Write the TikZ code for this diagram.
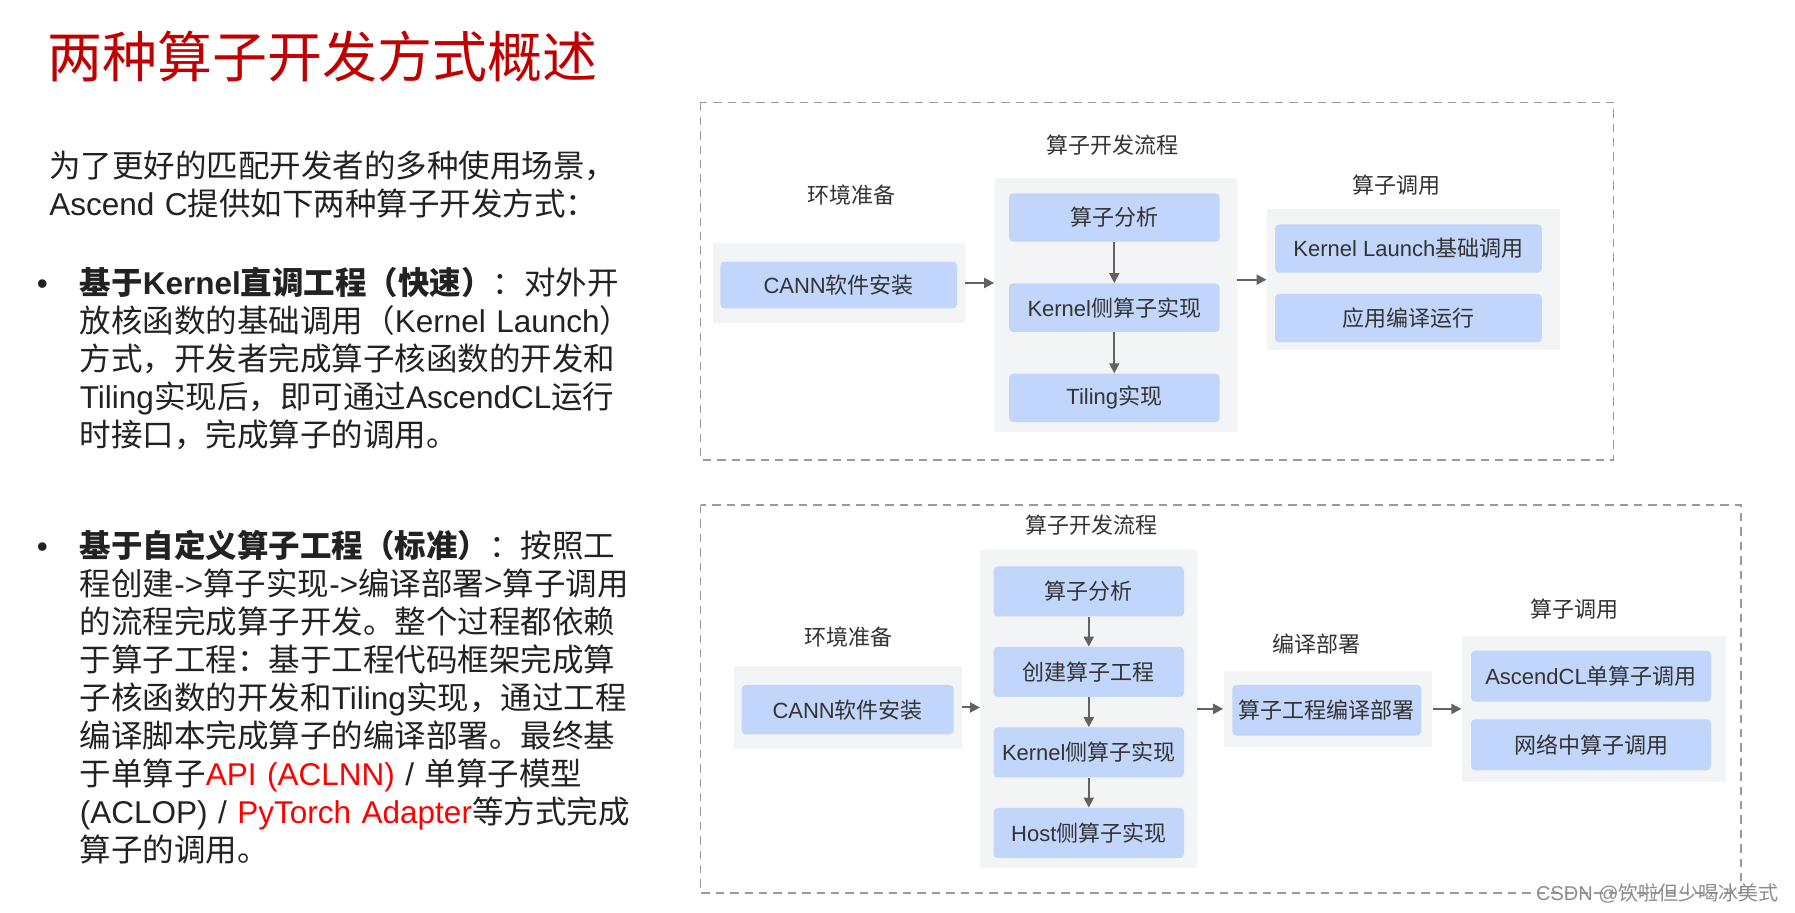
\documentclass[tikz,border=0pt]{standalone}
\usepackage{fontspec}
\setmainfont{Noto Sans CJK SC}
\newfontfamily\enfont{Liberation Sans}
\newcommand{\eng}[1]{{\enfont #1}}
\usetikzlibrary{positioning,arrows.meta}
\definecolor{titlered}{HTML}{C00000}
\definecolor{hired}{HTML}{FF0000}
\definecolor{bodytext}{HTML}{222222}
\definecolor{difftext}{HTML}{333333}
\definecolor{boxblue}{HTML}{C2D5FB}
\definecolor{panelgray}{HTML}{F3F4F6}
\definecolor{arrgray}{HTML}{626262}
\definecolor{framegray}{HTML}{9A9A9A}
\definecolor{markgray}{HTML}{8C8C8C}

\begin{document}
\begin{tikzpicture}[x=0.5pt, y=-0.5pt,
  body/.style={anchor=base west, inner sep=0pt, text=bodytext, align=left, text width=300pt, font=\fontsize{15.75pt}{18.95pt}\selectfont},
  bullet/.style={anchor=base west, inner sep=0pt, text=bodytext, font=\fontsize{15.75pt}{18.95pt}\selectfont},
  panel/.style={fill=panelgray, inner sep=0pt},
  box/.style={fill=boxblue, rounded corners=2pt, inner sep=0pt, minimum height=24.2pt, text=difftext, font=\fontsize{11pt}{13pt}\selectfont},
  lbl/.style={inner sep=0pt, text=difftext, font=\fontsize{11pt}{13pt}\selectfont},
  arr/.style={draw=arrgray, line width=1pt, -{Triangle[length=5pt, width=5pt]}},
  frame/.style={draw=framegray, line width=0.7pt, dash pattern=on 4.2pt off 3pt}]

\useasboundingbox (0,0) rectangle (1795,913);
\fill[white] (0,0) rectangle (1795,913);

% left column
\node[anchor=base west, inner sep=0pt, text=titlered, font=\fontsize{27.5pt}{33pt}\selectfont] (title) at (47,78) {两种算子开发方式概述};
\node[body] (intro) at (49,177.5) {为了更好的匹配开发者的多种使用场景，\\\eng{Ascend C}提供如下两种算子开发方式：};
\node[bullet] (dot1) at (36.5,294.7) {\eng{•}};
\node[body] (item1) at (79.5,294.7) {\textbf{基于\eng{Kernel}直调工程（快速）}：对外开\\
放核函数的基础调用（\eng{Kernel Launch}）\\
方式，开发者完成算子核函数的开发和\\
\eng{Tiling}实现后，即可通过\eng{AscendCL}运行\\
时接口，完成算子的调用。};
\node[bullet] (dot2) at (36.5,558) {\eng{•}};
\node[body] (item2) at (79.5,558) {\textbf{基于自定义算子工程（标准）}：按照工\\
程创建\eng{->}算子实现\eng{->}编译部署\eng{>}算子调用\\
的流程完成算子开发。整个过程都依赖\\
于算子工程：基于工程代码框架完成算\\
子核函数的开发和\eng{Tiling}实现，通过工程\\
编译脚本完成算子的编译部署。最终基\\
于单算子\textcolor{hired}{\eng{API (ACLNN)}}\eng{ / }单算子模型\\
\eng{(ACLOP) / }\textcolor{hired}{\eng{PyTorch Adapter}}等方式完成\\
算子的调用。};

% Kernel Launch flow
\draw[frame] (700.5,102.5) rectangle (1613.5,460);
\node[lbl] (envlblA) at (851,195) {环境准备};
\node[panel, minimum width=126pt, minimum height=40.3pt] (envA) at (839,283) {};
\node[box, minimum width=118.3pt, minimum height=23.3pt] (cannA) at (838.7,285) {\eng{CANN}软件安装};
\node[lbl] (flowlblA) at (1112,145) {算子开发流程};
\node[panel, minimum width=121pt, minimum height=126.7pt] (flowA) at (1115.5,305) {};
\node[box, minimum width=105.3pt] (anaA) at (1114.3,217.5) {算子分析};
\node[box, minimum width=105.3pt, below=20.5pt of anaA] (kerA) {\eng{Kernel}侧算子实现};
\node[box, minimum width=105.3pt, below=20.5pt of kerA] (tilA) {\eng{Tiling}实现};
\node[lbl] (calllblA) at (1396,185) {算子调用};
\node[panel, minimum width=146.5pt, minimum height=70.4pt] (callA) at (1413.5,279.7) {};
\node[box, minimum width=133.4pt] (klA) at (1408.4,248.5) {\eng{Kernel Launch}基础调用};
\node[box, minimum width=133.4pt, below=10.2pt of klA] (appA) {应用编译运行};
\draw[arr] (envA.east) -- (envA.east -| flowA.west);
\draw[arr] (anaA) -- (kerA);
\draw[arr] (kerA) -- (tilA);
\draw[arr] (flowA.east |- callA.west) -- (callA.west);

% custom op project flow
\draw[frame] (700.5,505) rectangle (1741,893);
\node[lbl] (envlblB) at (848,636.7) {环境准备};
\node[panel, minimum width=114pt, minimum height=41.8pt] (envB) at (847.5,707.5) {};
\node[box, minimum width=106pt, minimum height=24.7pt] (cannB) at (847.7,709.7) {\eng{CANN}软件安装};
\node[lbl] (flowlblB) at (1091,525) {算子开发流程};
\node[panel, minimum width=108.3pt, minimum height=159.2pt] (flowB) at (1088.7,709.2) {};
\node[box, minimum width=95.2pt, minimum height=25pt] (anaB) at (1088.8,591.5) {算子分析};
\node[box, minimum width=95.2pt, minimum height=25pt, below=14.85pt of anaB] (prjB) {创建算子工程};
\node[box, minimum width=95.2pt, minimum height=25pt, below=14.85pt of prjB] (kerB) {\eng{Kernel}侧算子实现};
\node[box, minimum width=95.2pt, minimum height=25pt, below=14.85pt of kerB] (hostB) {\eng{Host}侧算子实现};
\node[lbl] (cmplblB) at (1316,644.5) {编译部署};
\node[panel, minimum width=104.4pt, minimum height=37.9pt] (cmpB) at (1328,708.9) {};
\node[box, minimum width=94.5pt, minimum height=25.3pt] (depB) at (1326.8,710.3) {算子工程编译部署};
\node[lbl] (calllblB) at (1574,609) {算子调用};
\node[panel, minimum width=131.9pt, minimum height=73.2pt] (callB) at (1593.7,709.2) {};
\node[box, minimum width=120pt, minimum height=25.5pt] (aclB) at (1591,676.2) {\eng{AscendCL}单算子调用};
\node[box, minimum width=120pt, minimum height=25.5pt, below=8.4pt of aclB] (netB) {网络中算子调用};
\draw[arr] (envB.east) -- (envB.east -| flowB.west);
\draw[arr] (anaB) -- (prjB);
\draw[arr] (prjB) -- (kerB);
\draw[arr] (kerB) -- (hostB);
\draw[arr] (flowB.east |- cmpB.west) -- (cmpB.west);
\draw[arr] (cmpB.east) -- (cmpB.east -| callB.west);

\node[anchor=base east, inner sep=0pt, text=markgray, font=\fontsize{10pt}{12pt}\selectfont] (mark) at (1779,900.5) {\eng{CSDN @}饮啦但少喝冰美式};
\end{tikzpicture}
\end{document}
